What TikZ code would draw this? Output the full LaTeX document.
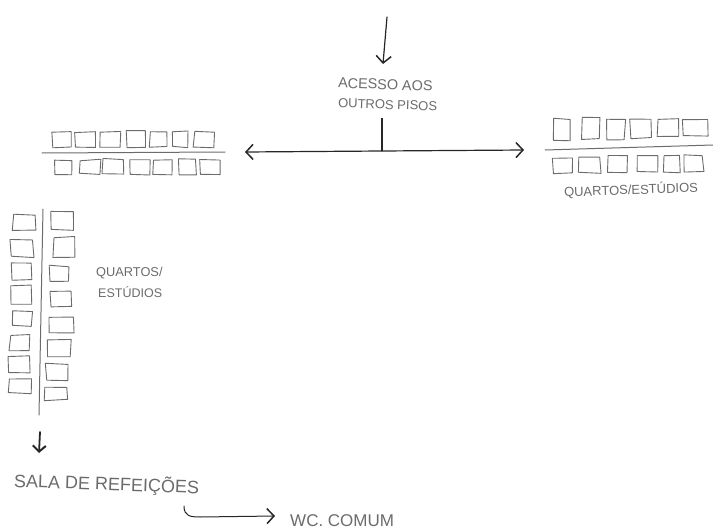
\documentclass[tikz,border=0pt]{standalone}
\usepackage{fontspec}
\setmainfont{Liberation Sans}
\usetikzlibrary{arrows.meta}
\definecolor{pencil}{gray}{0.42}
\definecolor{pen}{gray}{0.15}
\tikzset{
  roomline/.style={draw=pencil,line width=0.9pt,line join=round},
  divider/.style={draw=pencil,line width=1pt,line cap=round},
  label/.style={text=pencil,inner sep=0pt,align=left,font=\fontsize{14}{19}\selectfont},
  flow/.style={draw=pen,line width=1.2pt,line cap=round,-{Straight Barb[length=7pt,width=15pt,line width=1.5pt]}},
}
\newcommand{\roomsrow}[1]{%
  \foreach \xa/\ya/\xb/\yb in {#1}{%
    \pgfmathsetmacro{\da}{1.1*rand}\pgfmathsetmacro{\db}{0.8*rand}
    \pgfmathsetmacro{\dc}{1.1*rand}\pgfmathsetmacro{\dd}{0.8*rand}
    \pgfmathsetmacro{\de}{1.1*rand}\pgfmathsetmacro{\df}{0.8*rand}
    \pgfmathsetmacro{\dg}{1.1*rand}\pgfmathsetmacro{\dh}{0.8*rand}
    \draw[roomline] (\xa+\da,\ya+\db) -- (\xb+\dc,\ya+\dd) -- (\xb+\de,\yb+\df) -- (\xa+\dg,\yb+\dh) -- cycle;
  }}
\begin{document}
\begin{tikzpicture}[x=1pt,y=-1pt]
\useasboundingbox (0,0) rectangle (713,530);
\pgfmathsetseed{7}
% upper left wing
\roomsrow{52/132/71/147,75/132/95/147,100/132/120/147,127/130/146/147,150/132/167/147,172/131/188/147,194/132/214/147,
54/160/72/175,80/160/100/174,103/159/124/174,130/159/150/175,153/160/173/175,179/159/196/175,200/160/221/175}
\coordinate (lwa) at (42,153); \coordinate (lwb) at (225,152);
\draw[divider] (lwa) -- (lwb);
% right wing
\roomsrow{553/119/570/140,582/118/600/139,607/120/625/140,630/119/652/138,657/119/678/136,683/119/708/136,
553/158/572/173,578/157/600/173,608/156/628/172,637/155/657/172,663/155/680/172,685/155/703/172}
\coordinate (rwa) at (545,150); \coordinate (rwb) at (713,145);
\draw[divider] (rwa) -- (rwb);
% vertical wing
\roomsrow{13/215/35/230,11/240/33/257,11/263/32/280,10/285/31/304,13/311/32/326,10/335/30/350,9/356/29/373,9/379/31/393,
51/211/73/230,53/237/74/257,49/266/68/282,50/291/71/307,50/317/73/333,48/340/71/356,46/364/68/380,45/387/67/400}
\coordinate (vwa) at (43,209); \coordinate (vwb) at (39,415);
\draw[divider] (vwa) -- (vwb);
% labels
\node[label,rotate=-2,anchor=west,font=\fontsize{14.4}{19}\selectfont] (acesso) at (338,83) {ACESSO AOS};
\node[label,rotate=-2,anchor=west,font=\fontsize{13}{19}\selectfont] (outros) at (338,103) {OUTROS PISOS};
\node[label,rotate=2,anchor=center,font=\fontsize{13}{16}\selectfont] (qe) at (631,190) {QUARTOS/ESTÚDIOS};
\node[label,anchor=west,font=\fontsize{12.8}{15}\selectfont] (q) at (96,273) {QUARTOS/};
\node[label,anchor=west,font=\fontsize{12.5}{15}\selectfont] (e) at (98,292) {ESTÚDIOS};
\node[label,rotate=-2,anchor=west,font=\fontsize{18}{20}\selectfont] (sala) at (14,481) {SALA DE REFEIÇÕES};
\node[label,anchor=west,font=\fontsize{17}{20}\selectfont] (wc) at (290,521) {WC. COMUM};
% connectors
\coordinate (top) at (387,17); \coordinate (topend) at (383,64);
\draw[flow] (top) -- (topend);
\coordinate (stalk) at (382,118); \coordinate (hub) at (382,151);
\draw[draw=pen,line width=2pt] (stalk) -- (hub);
\coordinate (wl) at (245,152); \coordinate (wr) at (524,150);
\draw[flow] (hub) -- (wl);
\draw[flow] (hub) -- (wr);
\coordinate (down) at (40,432); \coordinate (downend) at (39,453);
\draw[flow,line width=1.8pt,-{Straight Barb[length=6pt,width=13pt,line width=2pt]}] (down) -- (downend);
\coordinate (wca) at (184,506); \coordinate (wcb) at (275,516);
\draw[flow,line width=1pt] (wca) .. controls (184,516) and (190,517) .. (200,517) -- (wcb);
\end{tikzpicture}
\end{document}
